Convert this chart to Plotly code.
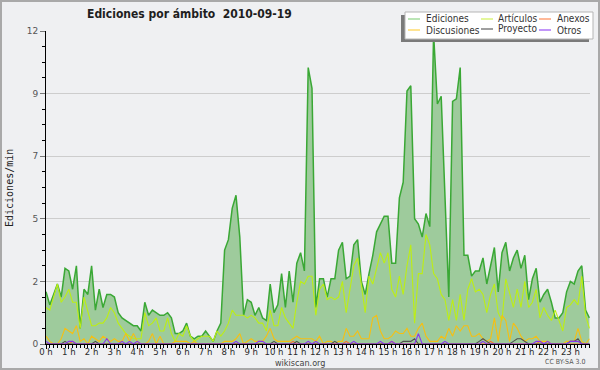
import plotly.graph_objects as go

# time axis: one point every 10 minutes, expressed in hours
hours = [i / 6 for i in range(144)]

ediciones = [
    2.0, 1.5, 1.9, 2.3, 1.8, 2.9, 2.8, 2.1, 3.0, 0.6, 2.1, 1.9,
    3.0, 1.3, 2.1, 1.4, 1.9, 1.9, 1.8, 1.2, 1.0, 0.9, 0.8, 0.7,
    0.7, 0.5, 1.6, 1.1, 1.3, 1.2, 1.1, 1.1, 1.2, 1.0, 0.4, 0.4,
    0.5, 0.8, 0.3, 0.2, 0.3, 0.3, 0.5, 0.3, 0.1, 0.5, 0.8, 3.6,
    4.0, 5.2, 5.7, 4.1, 1.1, 1.7, 1.6, 1.1, 1.4, 1.0, 0.9, 2.3,
    1.2, 1.5, 2.7, 1.4, 2.8, 1.6, 3.1, 3.5, 2.8, 10.6, 9.8, 1.4,
    2.5, 2.5, 1.8, 2.5, 2.5, 3.6, 3.9, 2.5, 2.6, 3.8, 4.0, 2.4,
    1.9, 2.7, 3.4, 4.3, 4.6, 4.9, 4.9, 3.1, 3.1, 5.6, 6.2, 9.7,
    9.9, 4.8, 4.6, 4.1, 5.0, 4.5, 11.9, 9.2, 9.5, 5.7, 1.8, 9.3,
    9.4, 10.6, 3.4, 3.4, 2.6, 2.8, 2.8, 3.3, 2.3, 3.0, 3.7, 2.0,
    3.5, 3.9, 2.8, 3.3, 3.6, 2.9, 3.4, 1.7, 2.5, 2.9, 1.6, 1.9,
    2.1, 1.6, 1.0, 1.0, 1.2, 2.0, 2.4, 2.3, 2.8, 3.0, 1.3, 1.0,
]

articulos = [
    1.4, 1.3, 1.8, 2.3, 1.6, 1.8, 2.1, 1.6, 1.6, 0.6, 1.8, 1.3,
    0.7, 0.7, 0.8, 0.8, 1.0, 1.4, 1.2, 0.8, 0.6, 0.4, 0.3, 0.2,
    0.2, 0.2, 1.2, 0.7, 0.8, 1.0, 0.5, 0.5, 1.0, 0.4, 0.1, 0.4,
    0.3, 0.7, 0.3, 0.1, 0.2, 0.3, 0.3, 0.3, 0.1, 0.5, 0.3, 0.5,
    0.8, 1.3, 1.1, 1.1, 1.1, 1.0, 1.1, 1.0, 0.8, 0.8, 0.5, 1.3,
    0.7, 0.7, 1.4, 1.0, 0.8, 0.6, 1.6, 2.4, 2.3, 2.6, 2.6, 1.1,
    2.1, 2.3, 1.7, 1.8, 1.7, 1.8, 2.4, 1.2, 2.1, 3.0, 3.3, 2.3,
    1.2, 2.6, 2.3, 2.9, 3.5, 3.1, 3.5, 2.1, 1.8, 2.6, 1.9, 3.0,
    3.8, 0.8, 2.7, 2.7, 4.2, 3.8, 2.7, 2.5, 1.9, 1.7, 0.9, 1.7,
    0.9, 1.9, 0.9, 2.1, 2.5, 2.0, 2.1, 1.9, 1.2, 1.9, 2.3, 1.2,
    0.9, 2.5, 2.0, 1.4, 2.1, 1.4, 2.4, 1.4, 1.6, 2.1, 1.0, 1.4,
    1.1, 0.9, 1.3, 0.9, 0.5, 1.4, 1.5, 1.7, 1.5, 2.6, 1.1, 0.6,
]

discusiones = [
    0.3, 0.1, 0.0, 0.0, 0.2, 0.6, 0.5, 0.4, 0.7, 0.1, 0.2, 0.0,
    0.3, 0.2, 0.1, 0.3, 0.2, 0.1, 0.2, 0.1, 0.1, 0.4, 0.1, 0.4,
    0.1, 0.0, 0.0, 0.1, 0.4, 0.0, 0.3, 0.0, 0.0, 0.0, 0.1, 0.1,
    0.1, 0.1, 0.0, 0.1, 0.0, 0.0, 0.0, 0.0, 0.0, 0.0, 0.0, 0.1,
    0.1, 0.1, 0.2, 0.4, 0.0, 0.1, 0.2, 0.1, 0.1, 0.1, 0.3, 0.6,
    0.2, 0.1, 0.1, 0.1, 0.1, 0.2, 0.3, 0.2, 0.2, 0.2, 0.2, 0.1,
    0.3, 0.0, 0.1, 0.1, 0.0, 0.1, 0.1, 0.6, 0.3, 0.3, 0.5, 0.2,
    0.2, 0.2, 1.0, 1.1, 0.5, 0.2, 0.2, 0.3, 0.5, 0.4, 0.4, 0.6,
    0.3, 0.3, 0.6, 0.8, 0.3, 0.1, 0.1, 0.1, 0.3, 0.2, 0.6, 0.3,
    0.7, 0.5, 0.7, 0.7, 0.3, 0.3, 0.4, 0.2, 0.1, 0.2, 1.0, 0.1,
    1.1, 0.9, 0.1, 0.8, 0.6, 0.3, 0.1, 0.2, 0.2, 0.3, 0.1, 0.1,
    0.1, 0.0, 0.0, 0.0, 0.0, 0.1, 0.1, 0.1, 0.6, 0.1, 0.0, 0.2,
]

anexos = [
    0, 0, 0, 0, 0, 0, 0, 0.1, 0, 0, 0, 0,
    0, 0, 0, 0, 0, 0, 0, 0, 0, 0, 0, 0,
    0, 0, 0, 0, 0, 0, 0, 0, 0, 0, 0, 0,
    0, 0, 0, 0, 0, 0, 0, 0, 0, 0, 0, 0,
    0, 0, 0, 0, 0, 0, 0, 0, 0, 0, 0, 0,
    0, 0, 0, 0, 0, 0.1, 0, 0, 0, 0, 0, 0,
    0, 0, 0, 0, 0, 0, 0, 0.1, 0, 0, 0, 0,
    0, 0, 0, 0, 0, 0, 0, 0.1, 0, 0, 0, 0,
    0, 0, 0, 0, 0, 0, 0, 0, 0, 0, 0, 0,
    0, 0, 0, 0, 0, 0, 0, 0, 0, 0.1, 0, 0,
    0, 0, 0, 0, 0, 0, 0, 0, 0, 0, 0.1, 0,
    0, 0, 0, 0, 0, 0, 0, 0, 0, 0, 0, 0,
]

proyecto = [
    0, 0, 0, 0, 0, 0.1, 0, 0, 0, 0, 0, 0,
    0, 0.1, 0, 0, 0, 0, 0, 0, 0, 0, 0, 0,
    0, 0, 0, 0, 0, 0, 0, 0, 0, 0, 0, 0,
    0, 0, 0, 0, 0, 0, 0, 0, 0, 0, 0, 0,
    0, 0, 0, 0, 0, 0, 0, 0, 0, 0, 0, 0,
    0.1, 0, 0, 0, 0, 0, 0.1, 0, 0, 0, 0, 0,
    0, 0, 0, 0, 0.1, 0, 0, 0, 0, 0, 0, 0,
    0, 0, 0, 0, 0, 0, 0, 0, 0, 0, 0.1, 0.1,
    0.1, 0.2, 0, 0, 0, 0, 0, 0, 0, 0, 0, 0,
    0, 0, 0, 0, 0, 0, 0.1, 0.2, 0.1, 0, 0, 0,
    0, 0, 0, 0.1, 0.2, 0.2, 0.1, 0, 0, 0, 0, 0,
    0, 0, 0, 0, 0, 0, 0.1, 0.1, 0.2, 0, 0, 0,
]

otros = [
    0.1, 0, 0, 0, 0, 0, 0.1, 0.1, 0, 0, 0, 0,
    0, 0, 0, 0, 0.2, 0, 0, 0, 0.1, 0, 0.1, 0,
    0.1, 0, 0, 0, 0, 0, 0, 0, 0, 0, 0, 0,
    0, 0, 0, 0, 0, 0, 0, 0, 0, 0, 0, 0,
    0, 0, 0.1, 0, 0, 0, 0, 0, 0.1, 0.1, 0, 0,
    0, 0, 0, 0, 0, 0, 0, 0, 0, 0.1, 0, 0.1,
    0, 0, 0, 0, 0, 0, 0, 0, 0, 0.1, 0, 0,
    0, 0, 0, 0, 0.1, 0, 0, 0.1, 0, 0, 0, 0,
    0, 0, 0.4, 0, 0, 0, 0, 0, 0, 0.1, 0, 0,
    0, 0, 0, 0, 0, 0, 0, 0.1, 0, 0, 0, 0,
    0, 0, 0, 0, 0, 0, 0, 0, 0, 0.1, 0.1, 0,
    0.1, 0, 0, 0, 0, 0, 0.1, 0.1, 0.1, 0, 0, 0,
]

series_names = ["Ediciones", "Artículos", "Anexos", "Discusiones", "Proyecto", "Otros"]
y_tickvals = [0, 2.4, 4.8, 7.2, 9.6, 12]
y_ticktext = ["0", "2", "5", "7", "9", "12"]

W, H = 600, 370
ML, MR, MT, MB = 46, 10, 31, 26
PW, PH = W - ML - MR, H - MT - MB

def px(x):
    return (x - ML) / PW

def py(y):
    return (H - MB - y) / PH

COND = "DejaVu Sans Condensed, DejaVu Sans, sans-serif"

colors = {
    "Ediciones": "#3aa835",
    "Artículos": "#bdee14",
    "Anexos": "#ff6a2a",
    "Discusiones": "#f6bf12",
    "Proyecto": "#505050",
    "Otros": "#8a35ee",
}
legend_colors = {
    "Ediciones": "#8ed486",
    "Artículos": "#d2f25a",
    "Anexos": "#ff8a55",
    "Discusiones": "#ffd24a",
    "Proyecto": "#606060",
    "Otros": "#9a50f5",
}

fig = go.Figure()
fig.add_trace(go.Scatter(x=hours, y=ediciones, mode="lines", fill="tozeroy",
                         fillcolor="#9ecb9c", line=dict(color=colors["Ediciones"], width=1.5),
                         name="Ediciones"))
for name, vals in [("Artículos", articulos), ("Discusiones", discusiones),
                   ("Anexos", anexos), ("Proyecto", proyecto), ("Otros", otros)]:
    fig.add_trace(go.Scatter(x=hours, y=vals, mode="lines",
                             line=dict(color=colors[name], width=1.1), name=name))

shapes = []
annotations = []
# outer frame
shapes.append(dict(type="rect", xref="paper", yref="paper", x0=px(1), x1=px(599),
                   y0=py(1), y1=py(369), line=dict(color="#a9a9a9", width=2), layer="above"))
# legend shadow + box
shapes.append(dict(type="rect", xref="paper", yref="paper", x0=px(401), x1=px(589),
                   y0=py(15), y1=py(42), fillcolor="#7a7a7a", line=dict(width=0), layer="above"))
shapes.append(dict(type="rect", xref="paper", yref="paper", x0=px(405), x1=px(593),
                   y0=py(12), y1=py(39), fillcolor="#ffffff", line=dict(color="#b5b5b5", width=1),
                   layer="above"))
legend_pos = {
    "Ediciones": (408, 19, 424),
    "Artículos": (481, 19, 496),
    "Anexos": (539, 19, 555),
    "Discusiones": (408, 30, 424),
    "Proyecto": (481, 29, 496),
    "Otros": (539, 30, 555),
}
for name in series_names:
    lx, ly, tx = legend_pos[name]
    shapes.append(dict(type="line", xref="paper", yref="paper", x0=px(lx), x1=px(lx + 12),
                       y0=py(ly), y1=py(ly), line=dict(color=legend_colors[name], width=1.2),
                       layer="above"))
    annotations.append(dict(xref="paper", yref="paper", x=px(tx), y=py(ly), text=name,
                            showarrow=False, xanchor="left", yanchor="middle",
                            font=dict(family=COND, size=10, color="#333333")))

annotations.append(dict(xref="paper", yref="paper", x=px(189), y=py(14),
                        text="<b>Ediciones por ámbito  2010-09-19</b>", showarrow=False,
                        xanchor="center", yanchor="middle",
                        font=dict(family=COND, size=12, color="#1e1e1e")))
annotations.append(dict(xref="paper", yref="paper", x=px(9), y=py(188), text="Ediciones/min",
                        textangle=-90, showarrow=False, xanchor="center", yanchor="middle",
                        font=dict(family="DejaVu Sans Mono, monospace", size=10, color="#222222")))
annotations.append(dict(xref="paper", yref="paper", x=px(300), y=py(362.5), text="wikiscan.org",
                        showarrow=False, xanchor="center", yanchor="middle",
                        font=dict(family=COND, size=9, color="#444444")))
annotations.append(dict(xref="paper", yref="paper", x=px(565), y=py(362), text="CC BY-SA 3.0",
                        showarrow=False, xanchor="center", yanchor="middle",
                        font=dict(family=COND, size=7, color="#555555")))

fig.update_layout(
    width=W, height=H,
    margin=dict(l=ML, r=MR, t=MT, b=MB, pad=0, autoexpand=False),
    paper_bgcolor="#eff0f2", plot_bgcolor="#eff0f2",
    showlegend=False, hovermode=False,
    shapes=shapes, annotations=annotations,
    xaxis=dict(range=[0, 23.86], tickmode="linear", tick0=0, dtick=1, ticksuffix=" h",
               tickangle=0, automargin=False, ticklabelstandoff=-5,
               ticks="outside", ticklen=4, tickcolor="#000000", tickwidth=1,
               showline=True, linecolor="#000000", linewidth=1, showgrid=False, zeroline=False,
               tickfont=dict(family=COND, size=9.5, color="#2a2a2a"),
               minor=dict(tickmode="linear", tick0=0, dtick=1 / 6, ticks="outside", ticklen=3,
                          tickcolor="#000000", showgrid=False),
               fixedrange=True),
    yaxis=dict(range=[0, 12], tickmode="array", tickvals=y_tickvals, ticktext=y_ticktext,
               automargin=False,
               ticks="outside", ticklen=5, tickcolor="#777777", showline=True,
               linecolor="#000000", linewidth=1, showgrid=True, gridcolor="#cdcdcd", gridwidth=1,
               zeroline=False,
               tickfont=dict(family="DejaVu Sans, sans-serif", size=9, color="#555555"),
               minor=dict(tickmode="linear", tick0=0, dtick=0.6, ticks="outside", ticklen=3,
                          tickcolor="#000000", showgrid=False),
               fixedrange=True),
)

fig.write_html(
    "out.html",
    config={"displayModeBar": False, "staticPlot": True},
    post_script="document.body.style.margin='0';document.body.style.padding='0';"
                "document.body.style.overflow='hidden';",
)
